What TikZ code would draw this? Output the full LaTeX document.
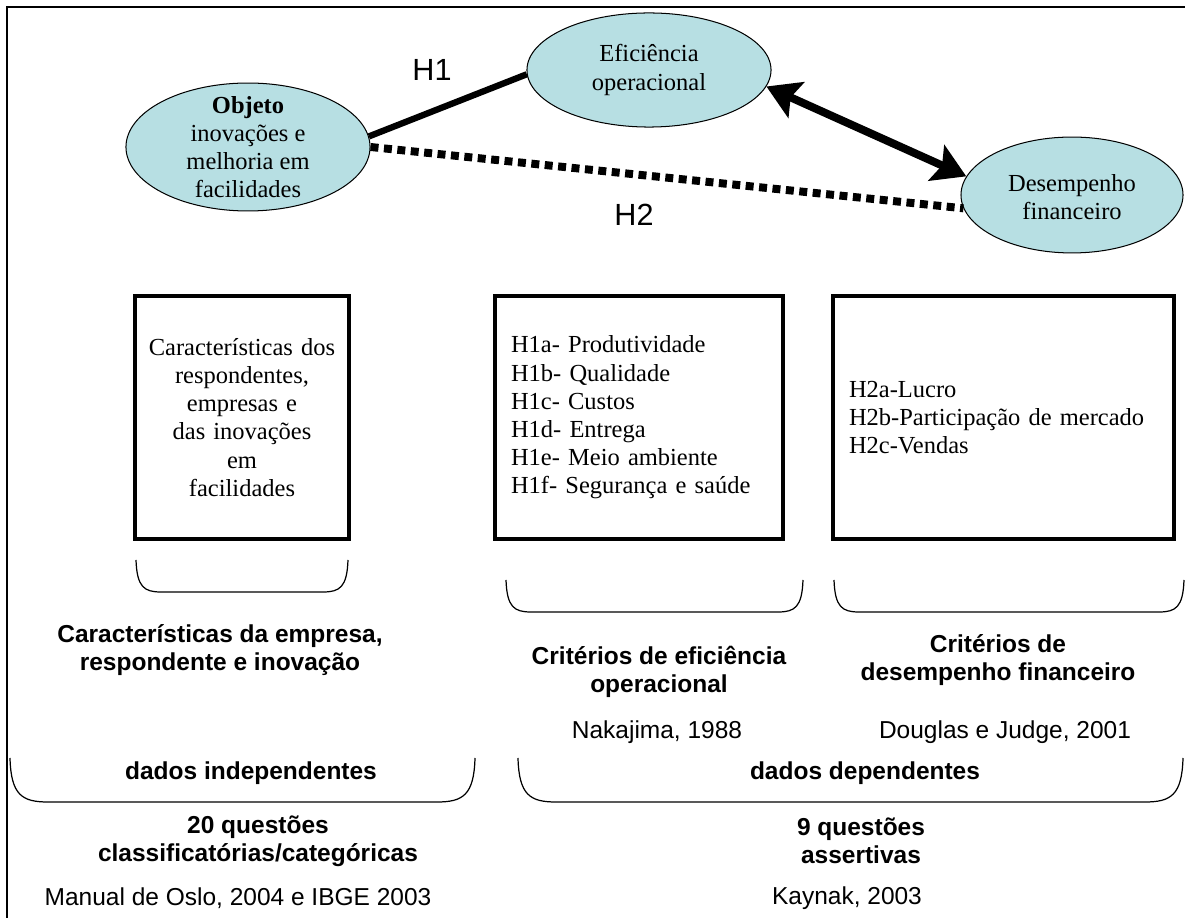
\documentclass[tikz,border=0pt]{standalone}
\usepackage{fontspec}
\setmainfont{Liberation Serif}
\newfontfamily\arialf{Liberation Sans}
\usetikzlibrary{arrows.meta,shapes.geometric}
\definecolor{ellfill}{RGB}{183,223,227}
\newcommand\tnrf{\fontsize{12}{13.8}\selectfont}
\newcommand\arlf{\arialf\fontsize{12}{13.8}\selectfont}
\begin{document}
\begin{tikzpicture}[x=0.49pt,y=-0.49pt,
  ell/.style={ellipse, draw=black, line width=0.5pt, fill=ellfill, inner sep=0pt},
  etxt/.style={align=center, font=\tnrf, inner sep=0pt},
  box/.style={draw=black, line width=2pt, minimum height=119.1pt, inner ysep=0pt, font=\tnrf},
  btxt/.style={align=center, font=\arlf\bfseries, inner sep=0pt},
  rtxt/.style={align=center, font=\arlf, inner sep=0pt},
  hlab/.style={font=\arialf\fontsize{15}{18}\selectfont, inner sep=0pt},
  brc/.style={line width=0.6pt},
  thickln/.style={line width=3.1pt},
  dashln/.style={line width=3.9pt, dash pattern=on 3.9pt off 2.7pt},
  dblarrow/.style={line width=3.9pt, {Stealth[length=16pt,width=19pt,inset=3pt]}-{Stealth[length=16pt,width=19pt,inset=3pt]}}
]
\useasboundingbox (0,0) rectangle (1185,918);
% frame
\draw[line width=1.3pt] (7,918) -- (7,7) -- (1185,7);

% ellipses
\node[ell, minimum width=119.6pt, minimum height=62.7pt] (obj) at (248,147) {};
\node[ell, minimum width=119.6pt, minimum height=55.9pt] (ef) at (649,70) {};
\node[ell, minimum width=108.8pt, minimum height=56.8pt] (des) at (1072,195) {};
\node[etxt] (objt) at (obj.center) {\textbf{Objeto}\\inovações e\\melhoria em\\facilidades};
\node[etxt] (eft) at (ef.center) {Eficiência\\operacional};
\node[etxt] (dest) at ([yshift=-1pt]des.center) {Desempenho\\financeiro};

% connectors
\draw[thickln] (obj.5) -- (ef.182);
\draw[dashln] (obj.0) -- (des.187);
\draw[dblarrow] (ef.-8) -- (des.170);
\node[hlab] (h1) at (432,70) {H1};
\node[hlab] (h2) at (634,215) {H2};

% boxes
\node[box, minimum width=104.9pt, text width=100pt, align=center, inner xsep=2.45pt] (b1) at (242,417.5)
  {Características dos\\respondentes,\\empresas e\\das inovações\\em\\facilidades};
\node[box, minimum width=141.1pt, text width=125.4pt, align=left, inner xsep=7.85pt] (b2) at (639,417.5)
  {H1a- Produtividade\\H1b- Qualidade\\H1c- Custos\\H1d- Entrega\\H1e- Meio ambiente\\H1f- Segurança e saúde};
\node[box, minimum width=167.1pt, text width=151.4pt, align=left, inner xsep=7.85pt] (b3) at (1003.5,417.5)
  {H2a-Lucro\\H2b-Participação de mercado\\H2c-Vendas};

% small braces
\draw[brc] (136,560) .. controls (137,587) and (144,592) .. (161,592) -- (323,592) .. controls (340,592) and (347,587) .. (348,560);
\draw[brc] (506,580) .. controls (507,607) and (514,612) .. (531,612) -- (778,612) .. controls (795,612) and (802,607) .. (803,580);
\draw[brc] (834,580) .. controls (835,607) and (842,612) .. (859,612) -- (1159,612) .. controls (1176,612) and (1183,607) .. (1184,580);

% big braces
\draw[brc] (10,758) .. controls (11,795) and (22,802) .. (48,802) -- (437,802) .. controls (463,802) and (474,795) .. (475,758);
\draw[brc] (518,758) .. controls (519,795) and (530,802) .. (556,802) -- (1145,802) .. controls (1171,802) and (1182,795) .. (1183,758);

% texts
\node[btxt] (t1) at (220,650) {Características da empresa,\\respondente e inovação};
\node[btxt] (t2) at (659,672) {Critérios de eficiência\\operacional};
\node[btxt] (t3) at (998,660) {Critérios de\\desempenho financeiro};
\node[rtxt] (r1) at (657,732) {Nakajima, 1988};
\node[rtxt] (r2) at (1005,732) {Douglas e Judge, 2001};
\node[btxt] (d1) at (251,773) {dados independentes};
\node[btxt] (d2) at (865,773) {dados dependentes};
\node[btxt] (q1) at (258,841) {20 questões\\classificatórias/categóricas};
\node[btxt] (q2) at (861,841) {9 questões\\assertivas};
\node[rtxt] (m1) at (238,898) {Manual de Oslo, 2004 e IBGE 2003};
\node[rtxt] (m2) at (847,898) {Kaynak, 2003};
\end{tikzpicture}
\end{document}
